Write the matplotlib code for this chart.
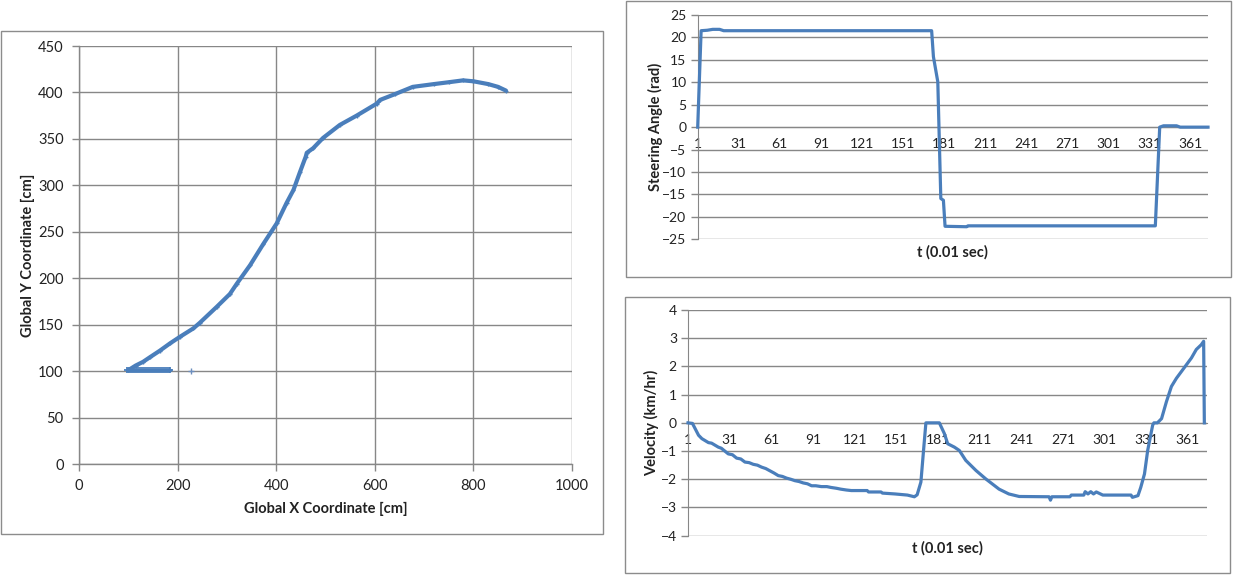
import matplotlib
matplotlib.use("Agg")
import matplotlib.pyplot as plt
from matplotlib.patches import Rectangle
from matplotlib.ticker import FixedLocator

plt.rcParams['font.family'] = ['Lato', 'DejaVu Sans']

# ---------------- data ----------------
# Left chart: trajectory (Global X vs Global Y, cm)
traj_x = [100, 103, 115, 130, 144, 164, 185, 205, 232, 245, 279, 306, 320, 347, 374,
          401, 421, 435, 448, 460, 462, 475, 495, 529, 563, 604, 611, 640, 677, 720,
          750, 779, 800, 830, 850, 866]
traj_y = [101, 102, 106, 110, 115, 122, 130, 137, 146, 152, 169, 183, 194, 214, 237,
          259, 281, 295, 314, 331, 335, 340, 351, 365, 375, 388, 392, 398, 406, 409,
          411, 413, 412, 409, 406, 402]
start_x = [98, 102, 106, 110, 114, 118, 122, 126, 130, 134, 138, 142, 146, 150, 154,
           158, 162, 166, 170, 174, 178, 182, 185]
start_y = [101, 101, 101, 101, 101, 101, 101, 101, 101, 101, 101, 101, 101, 101, 101,
           101, 101, 101, 101, 101, 101, 101, 101]
lone_x = [228]
lone_y = [100]

# Top-right chart: steering angle vs time step
steer_t = [1, 3.5, 8, 12, 17, 20, 172, 173.3, 176.5, 178.7, 180.6, 181.8, 197.7,
           198.5, 335.5, 338.7, 341.5, 351, 353.7, 374]
steer_v = [0, 21.5, 21.6, 21.8, 21.8, 21.5, 21.5, 15.7, 10.1, -15.9, -16.3, -22.1,
           -22.2, -22.0, -22.0, 0, 0.3, 0.3, 0, 0]

# Bottom-right chart: velocity vs time step
vel_t = [1, 4.2, 8.6, 11, 15.7, 18, 22.8, 25, 30, 33, 36, 39, 42, 45, 48, 51, 54,
         57, 60, 63, 66, 69, 72, 75, 78, 81, 84, 87, 90, 93, 97, 101, 104, 108,
         111, 115, 118.6, 130, 131, 140, 141, 150, 159, 164, 166, 168.7, 170.5,
         172.3, 182, 185.6, 188, 192.8, 196.4, 201, 208.4, 215.5, 225, 232, 239.5,
         261, 262, 263, 276, 277, 286, 287, 289, 291, 293, 295, 299.7, 320, 321,
         325, 327, 329.7, 332, 335.6, 336.5, 339, 342, 345.5, 349.1, 352.7, 356.3,
         359.9, 363.5, 367, 370.6, 372.3, 372.8]
vel_v = [0, -0.02, -0.44, -0.56, -0.70, -0.72, -0.86, -0.90, -1.10, -1.13, -1.25,
         -1.28, -1.39, -1.41, -1.47, -1.50, -1.57, -1.62, -1.70, -1.78, -1.87,
         -1.90, -1.96, -2.00, -2.05, -2.08, -2.13, -2.16, -2.23, -2.23, -2.26,
         -2.26, -2.29, -2.32, -2.35, -2.38, -2.40, -2.40, -2.45, -2.45, -2.49,
         -2.52, -2.56, -2.62, -2.55, -2.1, -1.04, 0, 0, -0.38, -0.74, -0.86, -0.98,
         -1.33, -1.69, -1.99, -2.35, -2.52, -2.61, -2.62, -2.74, -2.62, -2.62,
         -2.56, -2.56, -2.44, -2.52, -2.44, -2.52, -2.45, -2.56, -2.56, -2.64,
         -2.58, -2.29, -1.81, -0.98, -0.08, 0, 0, 0.15, 0.75, 1.29, 1.58, 1.82,
         2.06, 2.30, 2.6, 2.77, 2.89, 0]

cat_ticks = [1, 31, 61, 91, 121, 151, 181, 211, 241, 271, 301, 331, 361]

# ---------------- style ----------------
W, H = 1234, 575
BLUE = '#4a7ebb'
GRID = '#878787'
BORDER = '#8c8c8c'
TXT = '#222222'

fig = plt.figure(figsize=(W / 100, H / 100), dpi=100)
fig.patch.set_facecolor('white')


def frac(x0, y0, x1, y1):
    return [x0 / W, 1 - y1 / H, (x1 - x0) / W, (y1 - y0) / H]


# chart borders
for (x0, y0, x1, y1) in [(1, 31, 603, 534), (626, 1, 1231, 277), (625, 297, 1230, 573)]:
    fig.add_artist(Rectangle((x0 / W, 1 - y1 / H), (x1 - x0) / W, (y1 - y0) / H,
                             transform=fig.transFigure, fill=False,
                             edgecolor=BORDER, linewidth=1.0))

# ---------- left chart ----------
ax = fig.add_axes(frac(79, 46, 572, 464))
ax.set_xlim(0, 1000)
ax.set_ylim(0, 450)
ax.set_xticks([0, 200, 400, 600, 800, 1000])
ax.set_yticks(range(0, 451, 50))
ax.grid(True, color=GRID, linewidth=1.0)
ax.set_axisbelow(True)
for s in ['top', 'right']:
    ax.spines[s].set_visible(False)
for s in ['left', 'bottom']:
    ax.spines[s].set_color(GRID)
    ax.spines[s].set_linewidth(1.0)
ax.tick_params(axis='both', direction='out', length=5, width=1.0, color=GRID,
               labelsize=10.5, labelcolor=TXT, pad=6)
ax.plot(traj_x, traj_y, color=BLUE, linewidth=3.0, solid_joinstyle='round',
        solid_capstyle='round', marker='+', markersize=3.5, markeredgewidth=1.0,
        zorder=3)
ax.plot(start_x, start_y, color=BLUE, linewidth=2.0, marker='+', markersize=5,
        markeredgewidth=1.3, zorder=3)
ax.plot(lone_x, lone_y, linestyle='none', color='#6d8fbf', marker='+',
        markersize=5, markeredgewidth=1.0, zorder=3)
ax.text(0.5, -0.1077, 'Global X Coordinate [cm]', transform=ax.transAxes,
        ha='center', va='center', fontsize=10.5, fontweight='bold', color=TXT)
ax.text(-0.1034, 0.5, 'Global Y Coordinate [cm]', transform=ax.transAxes,
        ha='center', va='center', rotation=90, fontsize=10.5, fontweight='bold',
        color=TXT)


def cat_axes(rect, ylim, yticks, t, v, ylabel, ylab_x, xlab_y, xmax):
    a = fig.add_axes(rect)
    a.set_xlim(1, xmax)
    a.set_ylim(*ylim)
    a.set_yticks(yticks)
    a.xaxis.set_major_locator(FixedLocator(cat_ticks))
    a.yaxis.grid(True, color=GRID, linewidth=1.0)
    a.set_axisbelow(True)
    for s in ['top', 'right']:
        a.spines[s].set_visible(False)
    a.spines['bottom'].set_position(('data', 0))
    a.spines['bottom'].set_color(GRID)
    a.spines['left'].set_color(GRID)
    a.tick_params(axis='y', direction='out', length=5, width=1.0, color=GRID,
                  labelsize=10, labelcolor=TXT, pad=3)
    a.tick_params(axis='x', length=0, labelsize=10, labelcolor=TXT, pad=8)
    a.plot(t, v, color=BLUE, linewidth=2.3, solid_joinstyle='round', zorder=3,
           clip_on=False)
    a.text(0.5, xlab_y, 't (0.01 sec)', transform=a.transAxes, ha='center',
           va='center', fontsize=10.5, fontweight='bold', color=TXT)
    a.text(ylab_x, 0.5, ylabel, transform=a.transAxes, ha='center', va='center',
           rotation=90, fontsize=10.5, fontweight='bold', color=TXT)
    return a


cat_axes(frac(697.7, 15, 1208, 239.3), (-25, 25), range(-25, 26, 5),
         steer_t, steer_v, 'Steering Angle (rad)', -0.0837, -0.0566, 374)
cat_axes(frac(688, 310, 1206.7, 535.7), (-4, 4), range(-4, 5, 1),
         vel_t, vel_v, 'Velocity (km/hr)', -0.0694, -0.0545, 374.5)

fig.savefig('out.png', dpi=100, facecolor='white')
